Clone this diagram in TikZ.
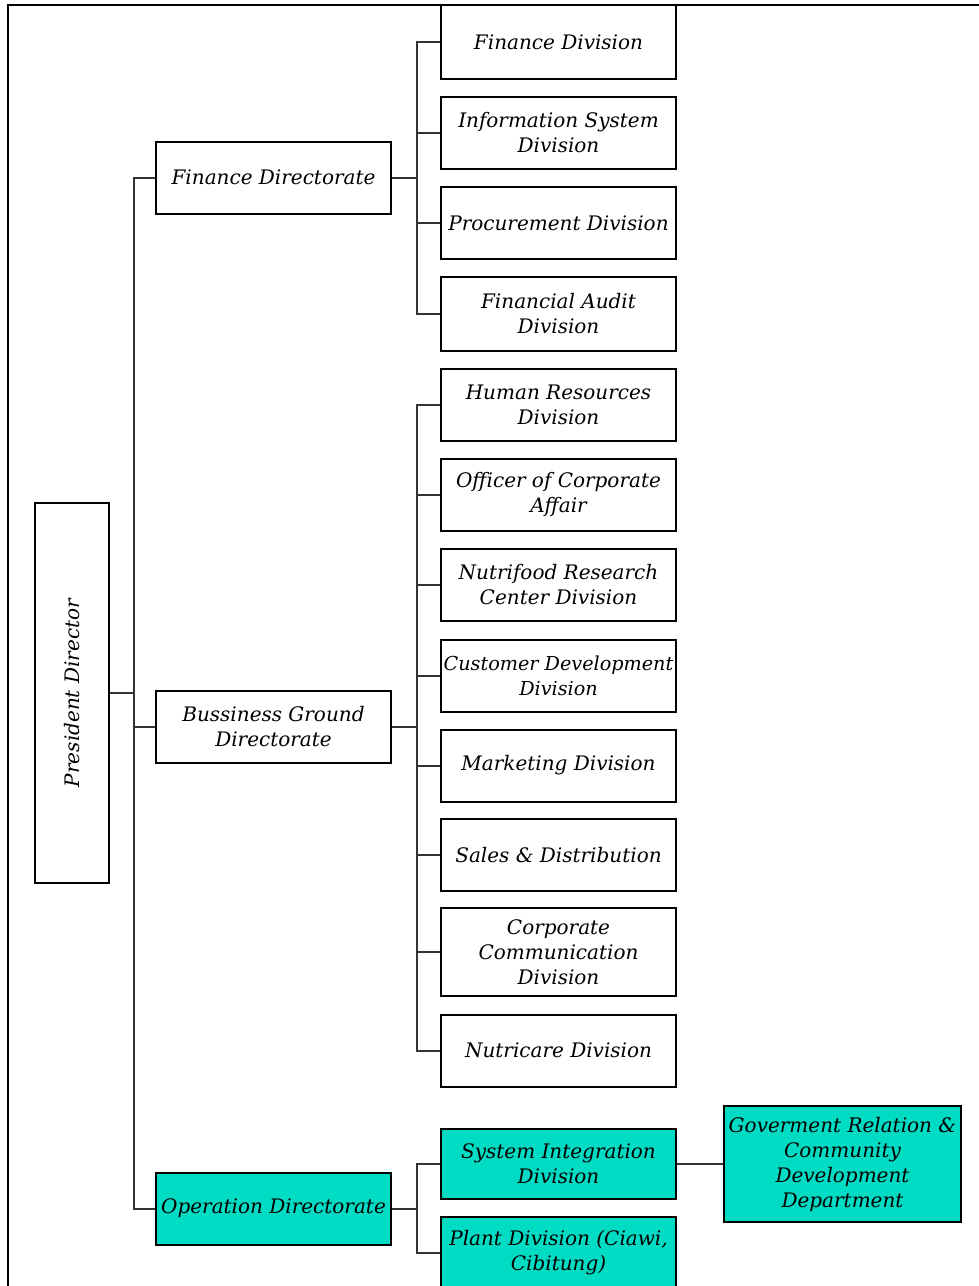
\documentclass[tikz,border=0pt]{standalone}
\usepackage{fontspec}
\setmainfont{DejaVu Serif}
\usetikzlibrary{positioning}
\definecolor{opTeal}{HTML}{00DCC4}
\definecolor{lineGrey}{HTML}{333333}
\tikzset{
  % boxes and elbow links of the chart
  every picture/.append style = {line width=1pt},
  orgbox/.style  = {draw=black, line width=1pt, align=center, inner sep=0pt,
                    font=\itshape\fontsize{10}{12.5}\selectfont},
  dirbox/.style  = {orgbox, minimum width=117.5pt, minimum height=36pt},
  divbox/.style  = {orgbox, minimum width=117.5pt, minimum height=#1},
  divbox/.default = 36pt,
  opfill/.style  = {fill=opTeal},
  link/.style    = {lineGrey, line width=1pt},
}

\begin{document}
\begin{tikzpicture}[x=0.5pt, y=-0.5pt]
  \useasboundingbox (0,0) rectangle (979,1286);
  \clip (0,0) rectangle (979,1286);
  % page frame
  \draw (8,1300) -- (8,5) -- (990,5);
  % president
  \node[orgbox, minimum width=37pt, minimum height=190pt] (pres) at (72,693)
    {\rotatebox{90}{President Director}};
  % directorates
  \node[dirbox] (finDir) at (273.5,177.5) {Finance Directorate};
  \node[dirbox] (busDir) at (273.5,727) {Bussiness Ground\\Directorate};
  \node[dirbox, opfill] (opDir) at (273.5,1208.5) {Operation Directorate};
  % divisions
  \foreach \name/\y/\h/\txt in {finDiv/42/37pt/Finance Division,
      isDiv/133/36pt/{Information System\\Division},
      procDiv/223/36pt/Procurement Division,
      auditDiv/314/37pt/{Financial Audit\\Division},
      hrDiv/404.5/36pt/{Human Resources\\Division},
      ocaDiv/494.5/36pt/{Officer of Corporate\\Affair},
      nrcDiv/584.5/36pt/{Nutrifood Research\\Center Division},
      mktDiv/765.5/36pt/Marketing Division,
      sdDiv/855/36pt/Sales \& Distribution,
      ccDiv/952/44pt/{Corporate\\Communication\\Division},
      ncDiv/1050.5/36pt/Nutricare Division}
    \node[divbox=\h] (\name) at (558.5,\y) {\txt};
  \node[divbox, font=\itshape\fontsize{9.6}{12.5}\selectfont] (cdDiv) at (558.5,675.5)
    {Customer Development\\Division};
  \node[divbox=35pt, opfill] (siDiv) at (558.5,1164) {System Integration\\Division};
  \node[divbox, opfill] (plantDiv) at (558.5,1253) {Plant Division (Ciawi,\\Cibitung)};
  \node[orgbox, opfill, minimum width=118.5pt, minimum height=58pt] (govDept)
    at (842.5,1164) {Goverment Relation \&\\Community\\Development\\Department};
  % president to directorates
  \draw[link] (pres.east) -- ++(24,0) coordinate (presT);
  \foreach \name in {finDir,busDir,opDir}
    \draw[link] (presT) |- (\name.west);
  % directorates to divisions
  \draw[link] (finDir.east) -- ++(25,0) coordinate (finT);
  \foreach \name in {finDiv,isDiv,procDiv,auditDiv}
    \draw[link] (finT) |- (\name.west);
  \draw[link] (busDir.east) -- ++(25,0) coordinate (busT);
  \foreach \name in {hrDiv,ocaDiv,nrcDiv,cdDiv,mktDiv,sdDiv,ccDiv,ncDiv}
    \draw[link] (busT) |- (\name.west);
  \draw[link] (opDir.east) -- ++(25,0) coordinate (opT);
  \foreach \name in {siDiv,plantDiv}
    \draw[link] (opT) |- (\name.west);
  \draw[link] (siDiv.east) -- (govDept.west);
\end{tikzpicture}
\end{document}
